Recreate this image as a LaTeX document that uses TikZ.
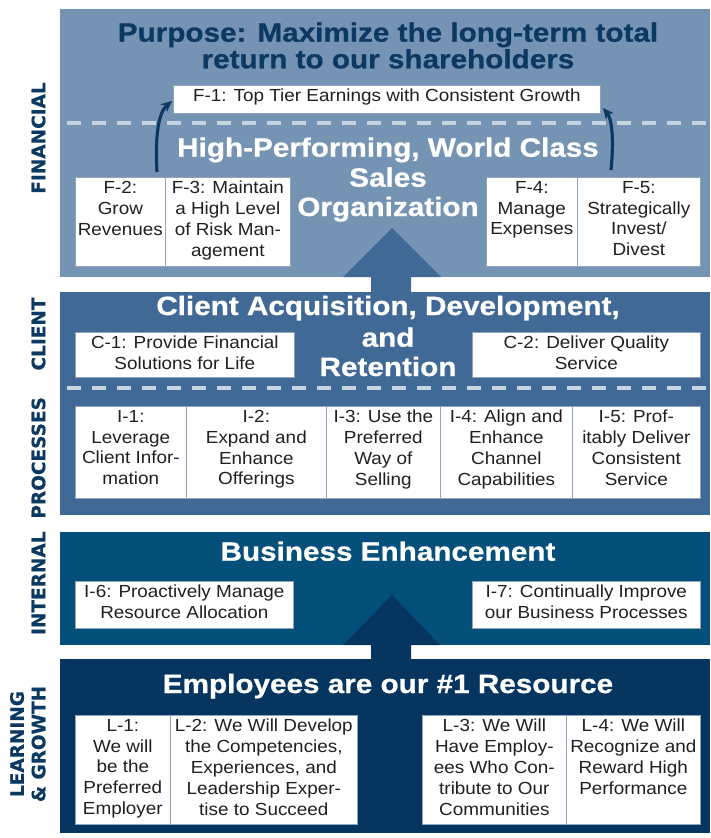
\documentclass[tikz,border=0pt]{standalone}
\usepackage{fontspec}
\usetikzlibrary{arrows.meta}
\setmainfont{Liberation Sans}
\newfontfamily\bodyfont[FakeStretch=1.08]{Liberation Sans}
\newfontfamily\headfont[FakeStretch=1.12, FakeBold=0.7]{Liberation Sans}
\newfontfamily\sidefont[FakeBold=0.5]{DejaVu Sans}

\definecolor{pfin}{HTML}{7594B4}
\definecolor{pcli}{HTML}{406A95}
\definecolor{pint}{HTML}{05507B}
\definecolor{plrn}{HTML}{06355F}
\definecolor{navy}{HTML}{0C3961}
\definecolor{dashc}{HTML}{C6D3E1}
\definecolor{boxline}{HTML}{8EA5BD}
\definecolor{ink}{HTML}{231F20}

% a white objective box with its centred, top-aligned text
\newcommand\cellbox[6]{%
  \node[cell, minimum width=#4, minimum height=#5] (#1) at (#2,#3) {};
  \node[celltext] (#1-t) at ([yshift=-4pt]#1.north) {#6};}

\begin{document}
\begin{tikzpicture}[x=1pt,y=-1pt,
  cell/.style={draw=boxline, line width=0.7pt, fill=white, anchor=north west, inner sep=0},
  celltext/.style={font=\bodyfont\fontsize{17.5}{20.8}\selectfont, text=ink, align=center, anchor=north, inner sep=0},
  title/.style={font=\headfont\bfseries\fontsize{26.5}{30}\selectfont, anchor=base, inner sep=0},
  side/.style={font=\sidefont\bfseries\fontsize{18.5}{21.5}\selectfont, text=navy, rotate=90, inner sep=0, align=center},
  dashline/.style={draw=dashc, line width=4.5pt, dash pattern=on 14pt off 11pt, dash phase=18pt},
  growarrow/.style={draw=navy, line width=3.2pt, -{Stealth[length=11pt, width=10pt]}}
]
\useasboundingbox (0,0) rectangle (710,838);

% perspective bands
\fill[pfin] (60,9) rectangle (710,277);
\fill[pcli] (60,292) rectangle (710,515);
\fill[pint] (60,532) rectangle (710,645);
\fill[plrn] (60,659) rectangle (710,833);

% upward block arrows linking the bands
\fill[pcli] (371,292) -- (371,277) -- (343,277) -- (392,228) -- (441,277) -- (411,277) -- (411,292) -- cycle;
\fill[plrn] (371,659) -- (371,645) -- (343,645) -- (392,595) -- (440,645) -- (411,645) -- (411,659) -- cycle;

% dashed separators
\draw[dashline] (60,123) -- (710,123);
\draw[dashline] (60,388) -- (710,388);

% financial objectives
\cellbox{f1}{173}{85}{427}{28}{F-1: Top Tier Earnings with Consistent Growth}
\cellbox{f2}{75}{177}{90}{89}{F-2:\\Grow\\Revenues}
\cellbox{f3}{165}{177}{125}{89}{F-3: Maintain\\a High Level\\of Risk Man-\\agement}
\cellbox{f4}{486}{177}{91}{89}{F-4:\\Manage\\Expenses}
\cellbox{f5}{577}{177}{123}{89}{F-5:\\Strategically\\Invest/\\Divest}

% client objectives
\cellbox{c1}{75}{332}{219}{45}{C-1: Provide Financial\\Solutions for Life}
\cellbox{c2}{472}{332}{228}{45}{C-2: Deliver Quality\\Service}

% internal process objectives
\cellbox{i1}{75}{406}{111}{92}{I-1:\\Leverage\\Client Infor-\\mation}
\cellbox{i2}{186}{406}{140}{92}{I-2:\\Expand and\\Enhance\\Offerings}
\cellbox{i3}{326}{406}{114}{92}{I-3: Use the\\Preferred\\Way of\\Selling}
\cellbox{i4}{440}{406}{132}{92}{I-4: Align and\\Enhance\\Channel\\Capabilities}
\cellbox{i5}{572}{406}{128}{92}{I-5: Prof-\\itably Deliver\\Consistent\\Service}
\cellbox{i6}{75}{581}{218}{47}{I-6: Proactively Manage\\Resource Allocation}
\cellbox{i7}{472}{581}{228}{47}{I-7: Continually Improve\\our Business Processes}

% learning and growth objectives
\cellbox{l1}{75}{715}{95}{109}{L-1:\\We will\\be the\\Preferred\\Employer}
\cellbox{l2}{170}{715}{187}{109}{L-2: We Will Develop\\the Competencies,\\Experiences, and\\Leadership Exper-\\tise to Succeed}
\cellbox{l3}{422}{715}{144}{109}{L-3: We Will\\Have Employ-\\ees Who Con-\\tribute to Our\\Communities}
\cellbox{l4}{566}{715}{134}{109}{L-4: We Will\\Recognize and\\Reward High\\Performance}

% band headings
\node[title, text=navy] (pur1) at (388,41.7) {Purpose: Maximize the long-term total};
\node[title, text=navy] (pur2) at (388,68.3) {return to our shareholders};
\node[title, text=white] (hp1) at (388,156.7) {High-Performing, World Class};
\node[title, text=white] (hp2) at (388,186.7) {Sales};
\node[title, text=white] (hp3) at (388,216) {Organization};
\node[title, text=white] (ca1) at (388,315) {Client Acquisition, Development,};
\node[title, text=white] (ca2) at (388,346.7) {and};
\node[title, text=white] (ca3) at (388,376) {Retention};
\node[title, text=white] (be) at (388,560.7) {Business Enhancement};
\node[title, text=white] (emp) at (388,693) {Employees are our \#1 Resource};

% perspective labels
\node[side] (sfin) at (38.5,138) {FINANCIAL};
\node[side] (scli) at (38.5,334) {CLIENT};
\node[side] (sint) at (38.5,516) {INTERNAL\ \ PROCESSES};
\node[side] (slrn) at (27.8,744) {LEARNING\\\& GROWTH};

% growth arrows feeding the top financial objective
\coordinate (la0) at (157,172);
\coordinate (la1) at (172,101);
\coordinate (ra0) at (611,170);
\coordinate (ra1) at (603,108);
\draw[growarrow] (la0) .. controls (155,138) and (158,113) .. (la1);
\draw[growarrow] (ra0) .. controls (614,140) and (612,119) .. (ra1);
\end{tikzpicture}
\end{document}
